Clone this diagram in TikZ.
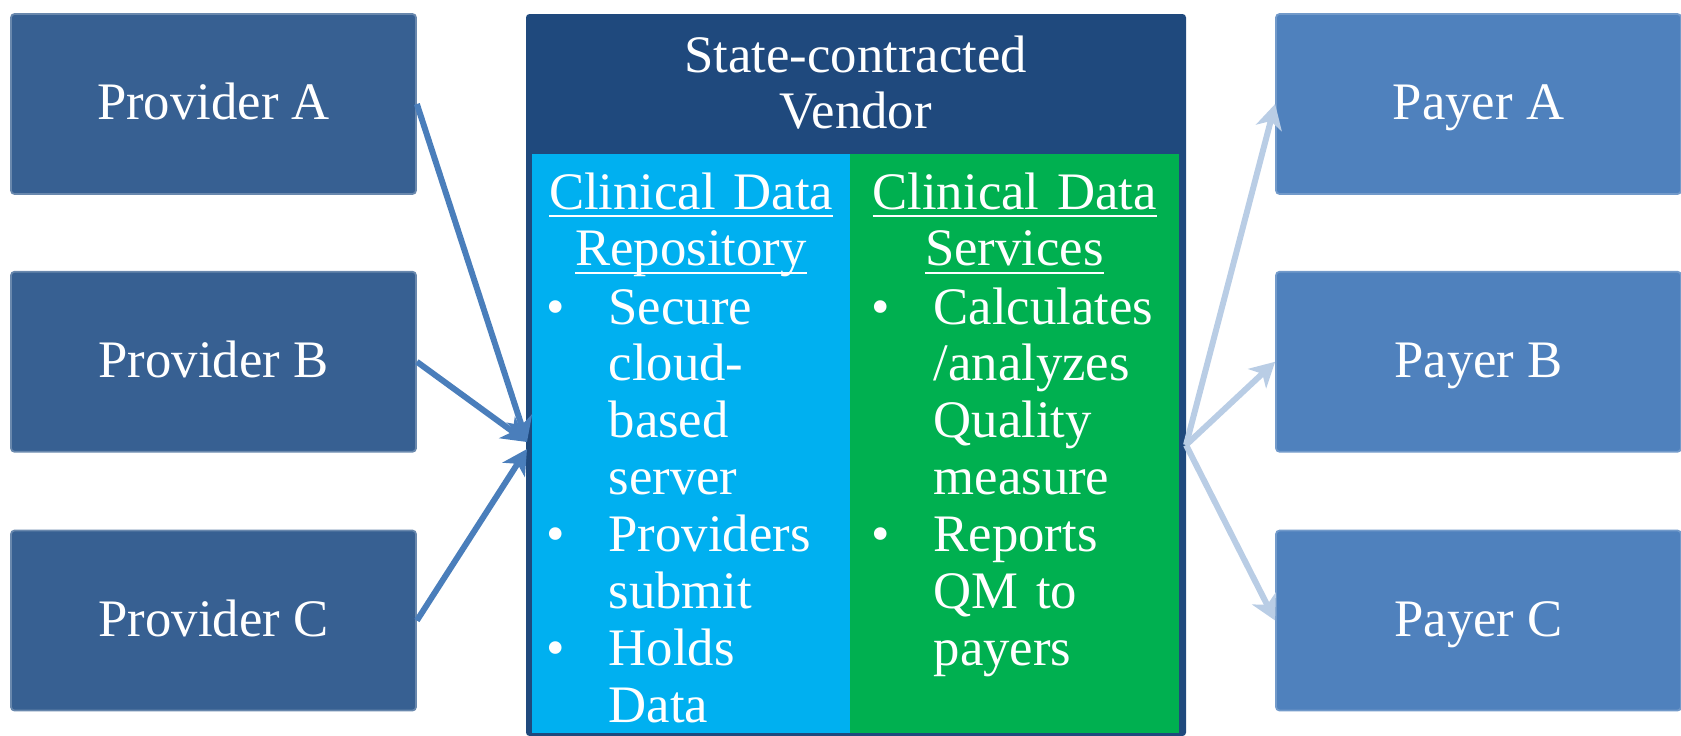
\documentclass[tikz,border=0pt]{standalone}
\usepackage{fontspec}
\setmainfont{Liberation Serif}
\usetikzlibrary{arrows.meta,positioning,calc}
\definecolor{cdnavy}    {HTML}{1F497D}
\definecolor{cdprovfill}{HTML}{376092}
\definecolor{cdpayfill} {HTML}{4F81BD}
\definecolor{cdcyan}    {HTML}{00B0F0}
\definecolor{cdgreen}   {HTML}{00B050}
\definecolor{cdinline}  {HTML}{4A7EBB}
\definecolor{cdoutline} {HTML}{B9CDE5}
\newcommand{\cdbul}{\makebox[0.62cm][l]{\textbullet}}
\newcommand{\cdind}{\hspace*{0.62cm}}
% underline sitting a little below the baseline
\newsavebox{\cdulbox}
\newcommand{\cdul}[1]{\leavevmode\sbox{\cdulbox}{#1}%
  \rlap{\rule[-2.2pt]{\wd\cdulbox}{0.6pt}}\usebox{\cdulbox}}
\tikzset{
  cdfont/.style={font=\fontsize{15}{16.2}\selectfont, text=white},
  cdbox/.style={cdfont, rounded corners=1pt, inner sep=0pt, line width=0.5pt,
                minimum width=4.05cm, minimum height=1.8cm,
                text height=9.1pt, text depth=0pt},
  cdprov/.style={cdbox, fill=cdprovfill, draw=cdprovfill!75!white},
  cdpayer/.style={cdbox, fill=cdpayfill, draw=cdpayfill!80!white},
  cdpanel/.style={inner sep=0pt, outer sep=0pt, anchor=north west},
  cdhead/.style={cdfont, inner sep=0pt, text width=#1, align=center, anchor=base},
  cdlist/.style={cdfont, inner sep=0pt, text width=3cm, align=left, anchor=base west},
  cdinedge/.style={-{Stealth[length=7pt,width=7.5pt,inset=2pt]}, draw=cdinline, line width=1.7pt},
  cdoutedge/.style={-{Stealth[length=7pt,width=7.5pt,inset=2pt]}, draw=cdoutline, line width=1.7pt},
}

\begin{document}
\begin{tikzpicture}
  \useasboundingbox (0,0) rectangle (16.81,7.35);

  % providers on the left, payers on the right
  \node[cdprov] (provA) at (2.135,6.31) {Provider A};
  \node[cdprov,below=0.76cm of provA] (provB) {Provider B};
  \node[cdprov,below=0.77cm of provB] (provC) {Provider C};
  \node[cdpayer] (payA) at (14.785,6.31) {Payer A};
  \node[cdpayer,below=0.76cm of payA] (payB) {Payer B};
  \node[cdpayer,below=0.77cm of payB] (payC) {Payer C};

  % vendor box with its two panels
  \node[cdpanel,fill=cdnavy,rounded corners=1pt,minimum width=6.6cm,minimum height=7.22cm]
    (vendor) at (5.26,7.21) {};
  \node[cdpanel,fill=cdcyan,minimum width=3.18cm,minimum height=5.79cm]
    (repo) at (5.32,5.81) {};
  \node[cdpanel,fill=cdgreen,minimum width=3.29cm,minimum height=5.79cm]
    (serv) at (8.50,5.81) {};

  \node[cdhead=6cm] (vendorHead) at (8.555,6.63) {State-contracted\\Vendor};
  \node[cdhead=3.18cm] (repoHead) at (repo.north |- 0,5.26)
    {\cdul{Clinical Data}\\\cdul{Repository}};
  \node[cdhead=3.29cm] (servHead) at (serv.north |- 0,5.26)
    {\cdul{Clinical Data}\\\cdul{Services}};
  \node[cdlist] (repoList) at (5.46,4.11)
    {\cdbul Secure\\\cdind cloud-\\\cdind based\\\cdind server\\
     \cdbul Providers\\\cdind submit\\\cdbul Holds\\\cdind Data};
  \node[cdlist] (servList) at (8.71,4.11)
    {\cdbul Calculates\\\cdind /analyzes\\\cdind Quality\\\cdind measure\\
     \cdbul Reports\\\cdind QM to\\\cdind payers};

  % data flow in and out of the vendor
  \coordinate (vendorInA) at (5.27,2.93);
  \coordinate (vendorInC) at (5.27,2.86);
  \coordinate (vendorOut) at (11.86,2.90);
  \draw[cdinedge] (provA.east) -- (vendorInA);
  \draw[cdinedge] (provB.east) -- (vendorInA);
  \draw[cdinedge] (provC.east) -- (vendorInC);
  \draw[cdoutedge] (vendorOut) -- (payA.west);
  \draw[cdoutedge] (vendorOut) -- (payB.west);
  \draw[cdoutedge] (vendorOut) -- (payC.west);
\end{tikzpicture}
\end{document}
